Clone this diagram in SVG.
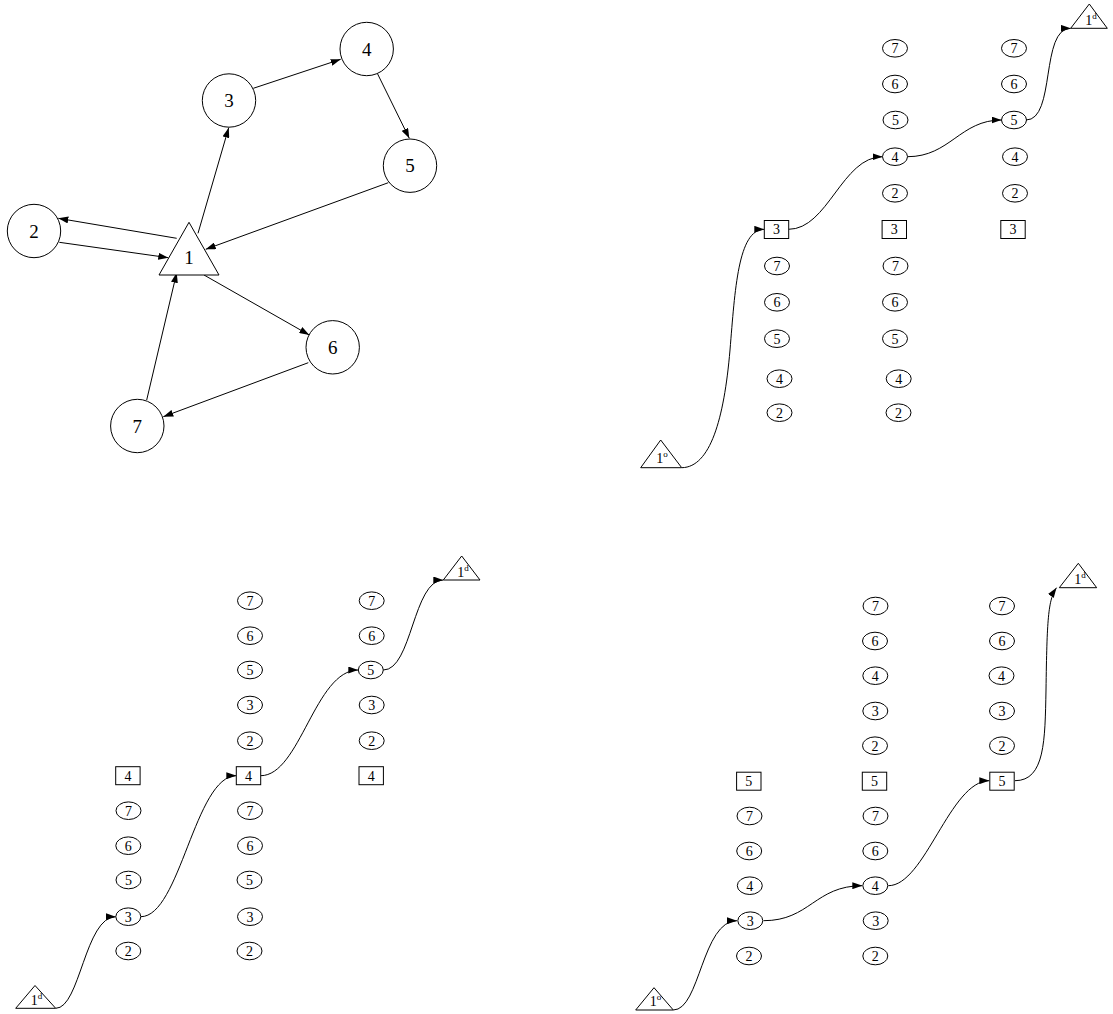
<svg xmlns="http://www.w3.org/2000/svg" width="1113" height="1014" viewBox="0 0 1113 1014">
<style>
.n{fill:#fff;stroke:#000;stroke-width:1}
.c{fill:none;stroke:#000;stroke-width:1}
.L{font-family:"Liberation Serif","Times New Roman",serif;font-size:19px;text-anchor:middle;fill:#000}
.s{font-family:"Liberation Serif","Times New Roman",serif;font-size:14px;text-anchor:middle;fill:#000}
.tr{font-family:"Liberation Serif","Times New Roman",serif;font-size:14px;text-anchor:middle;fill:#000}
.sup{font-size:9px}
</style>
<defs>
<marker id="ah" viewBox="0 0 10 7" refX="10" refY="3.5" markerWidth="10" markerHeight="7" markerUnits="userSpaceOnUse" orient="auto"><path d="M0,0 L10,3.5 L0,7 z" fill="#000"/></marker>
<ellipse id="E" cx="0" cy="0" rx="12.5" ry="8.8" class="n"/>
<rect id="R" x="-12.2" y="-9" width="24.4" height="18" class="n"/>
</defs>

<!-- Panel A: graph -->
<g id="connectors-a" class="c" marker-end="url(#ah)">
<path d="M253.3,88.3 L340.7,59.3"/>
<path d="M377.3,73.3 L409.3,138.3"/>
<path d="M388.3,182.7 L205.7,249.3"/>
<path d="M198,233.3 L228.7,127.7"/>
<path d="M176.7,238.3 L58.3,218.3"/>
<path d="M59.3,242.3 L168.3,257.7"/>
<path d="M204,275 L309.3,335"/>
<path d="M308.3,362.7 L163.3,416.7"/>
<path d="M146.7,400 L176.7,272.7"/>
</g>
<g id="a1"><polygon class="n" points="189,222.3 159,275 219,275"/><text class="L" x="189" y="264">1</text></g>
<g id="a2"><circle class="n" cx="34" cy="231" r="26.7"/><text class="L" x="34" y="237.5">2</text></g>
<g id="a3"><circle class="n" cx="229" cy="100.5" r="26.7"/><text class="L" x="229" y="107">3</text></g>
<g id="a4"><circle class="n" cx="366.7" cy="49" r="26.7"/><text class="L" x="366.7" y="55.5">4</text></g>
<g id="a5"><circle class="n" cx="410" cy="165.7" r="26.7"/><text class="L" x="410" y="172.2">5</text></g>
<g id="a6"><circle class="n" cx="332.7" cy="347.3" r="26.7"/><text class="L" x="332.7" y="353.8">6</text></g>
<g id="a7"><circle class="n" cx="137.3" cy="426" r="26.7"/><text class="L" x="137.3" y="432.5">7</text></g>

<!-- Panel B: top right -->
<g id="connectors-b" class="c" marker-end="url(#ah)">
<path d="M682,467.7 C710,467 724,420 730,350 C735,290 738,229.3 764.3,229.3"/>
<path d="M788.5,229.3 C828,229.3 842,156.7 882.5,156.7"/>
<path d="M907.5,156.7 C950,156.7 960,120 1001.5,120"/>
<path d="M1026,120 C1056,120 1040,28.3 1070.7,28.3"/>
</g>
<g id="b-o"><polygon class="n" points="660.7,440 640.7,467.7 681.7,467.7"/><text class="tr" x="662" y="463">1<tspan class="sup" dy="-6">o</tspan></text></g>
<g id="b-d"><polygon class="n" points="1089.3,4 1070.7,28.3 1107.3,28.3"/><text class="tr" x="1091" y="24.5">1<tspan class="sup" dy="-6">d</tspan></text></g>
<g id="b1-3"><use href="#R" x="776.5" y="229.5"/><text class="s" x="776.5" y="234.3">3</text></g>
<g id="b1-7"><use href="#E" x="777" y="266"/><text class="s" x="777" y="270.8">7</text></g>
<g id="b1-6"><use href="#E" x="777" y="302.3"/><text class="s" x="777" y="307.1">6</text></g>
<g id="b1-5"><use href="#E" x="777" y="338.7"/><text class="s" x="777" y="343.5">5</text></g>
<g id="b1-4"><use href="#E" x="779.5" y="378.7"/><text class="s" x="779.5" y="383.5">4</text></g>
<g id="b1-2"><use href="#E" x="779.5" y="412.7"/><text class="s" x="779.5" y="417.5">2</text></g>
<g id="b2-7"><use href="#E" x="895" y="48.3"/><text class="s" x="895" y="53.1">7</text></g>
<g id="b2-6"><use href="#E" x="895" y="84"/><text class="s" x="895" y="88.8">6</text></g>
<g id="b2-5"><use href="#E" x="895.5" y="120"/><text class="s" x="895.5" y="124.8">5</text></g>
<g id="b2-4"><use href="#E" x="895" y="156.7"/><text class="s" x="895" y="161.5">4</text></g>
<g id="b2-2"><use href="#E" x="895" y="193.3"/><text class="s" x="895" y="198.1">2</text></g>
<g id="b2-3"><use href="#R" x="894.3" y="229.5"/><text class="s" x="894.3" y="234.3">3</text></g>
<g id="b2-7b"><use href="#E" x="895.5" y="266"/><text class="s" x="895.5" y="270.8">7</text></g>
<g id="b2-6b"><use href="#E" x="895" y="302.3"/><text class="s" x="895" y="307.1">6</text></g>
<g id="b2-5b"><use href="#E" x="895" y="338.7"/><text class="s" x="895" y="343.5">5</text></g>
<g id="b2-4b"><use href="#E" x="898.7" y="378.7"/><text class="s" x="898.7" y="383.5">4</text></g>
<g id="b2-2b"><use href="#E" x="898.5" y="412.7"/><text class="s" x="898.5" y="417.5">2</text></g>
<g id="b3-7"><use href="#E" x="1014" y="48.3"/><text class="s" x="1014" y="53.1">7</text></g>
<g id="b3-6"><use href="#E" x="1014" y="84"/><text class="s" x="1014" y="88.8">6</text></g>
<g id="b3-5"><use href="#E" x="1014" y="120"/><text class="s" x="1014" y="124.8">5</text></g>
<g id="b3-4"><use href="#E" x="1015" y="156.7"/><text class="s" x="1015" y="161.5">4</text></g>
<g id="b3-2"><use href="#E" x="1015" y="193.3"/><text class="s" x="1015" y="198.1">2</text></g>
<g id="b3-3"><use href="#R" x="1013" y="229.5"/><text class="s" x="1013" y="234.3">3</text></g>

<!-- Panel C: bottom left -->
<g id="connectors-c" class="c" marker-end="url(#ah)">
<path d="M55.7,1008.3 C80,1008.3 85,916.7 115.8,916.7"/>
<path d="M140.8,916.7 C180,916.7 195,775.7 236.3,775.7"/>
<path d="M260.7,775.7 C300,775.7 315,670 358.3,670"/>
<path d="M383.3,670 C412,670 413,580 443.3,580"/>
</g>
<g id="c-d0"><polygon class="n" points="35,985.5 15.7,1008.3 55.7,1008.3"/><text class="tr" x="36.5" y="1005">1<tspan class="sup" dy="-6">d</tspan></text></g>
<g id="c-d"><polygon class="n" points="461.7,556 443.3,580 480,580"/><text class="tr" x="463" y="576.5">1<tspan class="sup" dy="-6">d</tspan></text></g>
<g id="c1-4"><use href="#R" x="127.9" y="775.7"/><text class="s" x="127.9" y="780.5">4</text></g>
<g id="c1-7"><use href="#E" x="128.5" y="810.7"/><text class="s" x="128.5" y="815.5">7</text></g>
<g id="c1-6"><use href="#E" x="128.3" y="845.7"/><text class="s" x="128.3" y="850.5">6</text></g>
<g id="c1-5"><use href="#E" x="128.5" y="880"/><text class="s" x="128.5" y="884.8">5</text></g>
<g id="c1-3"><use href="#E" x="128.3" y="916.7"/><text class="s" x="128.3" y="921.5">3</text></g>
<g id="c1-2"><use href="#E" x="128.3" y="951"/><text class="s" x="128.3" y="955.8">2</text></g>
<g id="c2-7"><use href="#E" x="250" y="600.7"/><text class="s" x="250" y="605.5">7</text></g>
<g id="c2-6"><use href="#E" x="250" y="635.7"/><text class="s" x="250" y="640.5">6</text></g>
<g id="c2-5"><use href="#E" x="250" y="670"/><text class="s" x="250" y="674.8">5</text></g>
<g id="c2-3"><use href="#E" x="250" y="705"/><text class="s" x="250" y="709.8">3</text></g>
<g id="c2-2"><use href="#E" x="250" y="740.7"/><text class="s" x="250" y="745.5">2</text></g>
<g id="c2-4"><use href="#R" x="248.5" y="775.7"/><text class="s" x="248.5" y="780.5">4</text></g>
<g id="c2-7b"><use href="#E" x="250" y="810.7"/><text class="s" x="250" y="815.5">7</text></g>
<g id="c2-6b"><use href="#E" x="250" y="845.7"/><text class="s" x="250" y="850.5">6</text></g>
<g id="c2-5b"><use href="#E" x="249.5" y="880"/><text class="s" x="249.5" y="884.8">5</text></g>
<g id="c2-3b"><use href="#E" x="250" y="916.7"/><text class="s" x="250" y="921.5">3</text></g>
<g id="c2-2b"><use href="#E" x="249.5" y="951"/><text class="s" x="249.5" y="955.8">2</text></g>
<g id="c3-7"><use href="#E" x="371.7" y="600.7"/><text class="s" x="371.7" y="605.5">7</text></g>
<g id="c3-6"><use href="#E" x="371.7" y="635.7"/><text class="s" x="371.7" y="640.5">6</text></g>
<g id="c3-5"><use href="#E" x="370.8" y="670"/><text class="s" x="370.8" y="674.8">5</text></g>
<g id="c3-3"><use href="#E" x="371.7" y="705"/><text class="s" x="371.7" y="709.8">3</text></g>
<g id="c3-2"><use href="#E" x="371.7" y="740.7"/><text class="s" x="371.7" y="745.5">2</text></g>
<g id="c3-4"><use href="#R" x="371.2" y="775.7"/><text class="s" x="371.2" y="780.5">4</text></g>

<!-- Panel D: bottom right -->
<g id="connectors-d" class="c" marker-end="url(#ah)">
<path d="M673.3,1010 C700,1010 702,920.7 737,920.7"/>
<path d="M763.5,920.7 C810,920.7 815,885.7 862.3,885.7"/>
<path d="M888.3,885.7 C925,885.7 950,780.7 989.3,780.7"/>
<path d="M1015,780.7 C1045,780.7 1045,740 1046,690 C1047,620 1048,600 1056.5,587.7"/>
</g>
<g id="d-o"><polygon class="n" points="654,987.7 635.7,1010 673.3,1010"/><text class="tr" x="655.5" y="1006">1<tspan class="sup" dy="-6">o</tspan></text></g>
<g id="d-d"><polygon class="n" points="1078.3,563.3 1059.3,587.7 1096.7,587.7"/><text class="tr" x="1080" y="584">1<tspan class="sup" dy="-6">d</tspan></text></g>
<g id="d1-5"><use href="#R" x="748.8" y="781.2"/><text class="s" x="748.8" y="786">5</text></g>
<g id="d1-7"><use href="#E" x="749.5" y="816"/><text class="s" x="749.5" y="820.8">7</text></g>
<g id="d1-6"><use href="#E" x="749.2" y="851"/><text class="s" x="749.2" y="855.8">6</text></g>
<g id="d1-4"><use href="#E" x="749.8" y="885.7"/><text class="s" x="749.8" y="890.5">4</text></g>
<g id="d1-3"><use href="#E" x="750.3" y="920.7"/><text class="s" x="750.3" y="925.5">3</text></g>
<g id="d1-2"><use href="#E" x="749" y="956"/><text class="s" x="749" y="960.8">2</text></g>
<g id="d2-7"><use href="#E" x="875.5" y="606"/><text class="s" x="875.5" y="610.8">7</text></g>
<g id="d2-6"><use href="#E" x="875" y="641"/><text class="s" x="875" y="645.8">6</text></g>
<g id="d2-4"><use href="#E" x="875.3" y="675.7"/><text class="s" x="875.3" y="680.5">4</text></g>
<g id="d2-3"><use href="#E" x="875.3" y="711"/><text class="s" x="875.3" y="715.8">3</text></g>
<g id="d2-2"><use href="#E" x="875" y="745.7"/><text class="s" x="875" y="750.5">2</text></g>
<g id="d2-5"><use href="#R" x="874.5" y="781.2"/><text class="s" x="874.5" y="786">5</text></g>
<g id="d2-7b"><use href="#E" x="875.5" y="816"/><text class="s" x="875.5" y="820.8">7</text></g>
<g id="d2-6b"><use href="#E" x="875.3" y="851"/><text class="s" x="875.3" y="855.8">6</text></g>
<g id="d2-4b"><use href="#E" x="875.3" y="885.7"/><text class="s" x="875.3" y="890.5">4</text></g>
<g id="d2-3b"><use href="#E" x="875.7" y="920.7"/><text class="s" x="875.7" y="925.5">3</text></g>
<g id="d2-2b"><use href="#E" x="875.3" y="956"/><text class="s" x="875.3" y="960.8">2</text></g>
<g id="d3-7"><use href="#E" x="1002" y="606"/><text class="s" x="1002" y="610.8">7</text></g>
<g id="d3-6"><use href="#E" x="1002" y="641"/><text class="s" x="1002" y="645.8">6</text></g>
<g id="d3-4"><use href="#E" x="1001.5" y="675.7"/><text class="s" x="1001.5" y="680.5">4</text></g>
<g id="d3-3"><use href="#E" x="1002" y="711"/><text class="s" x="1002" y="715.8">3</text></g>
<g id="d3-2"><use href="#E" x="1002" y="745.7"/><text class="s" x="1002" y="750.5">2</text></g>
<g id="d3-5"><use href="#R" x="1002" y="781.2"/><text class="s" x="1002" y="786">5</text></g>
</svg>
